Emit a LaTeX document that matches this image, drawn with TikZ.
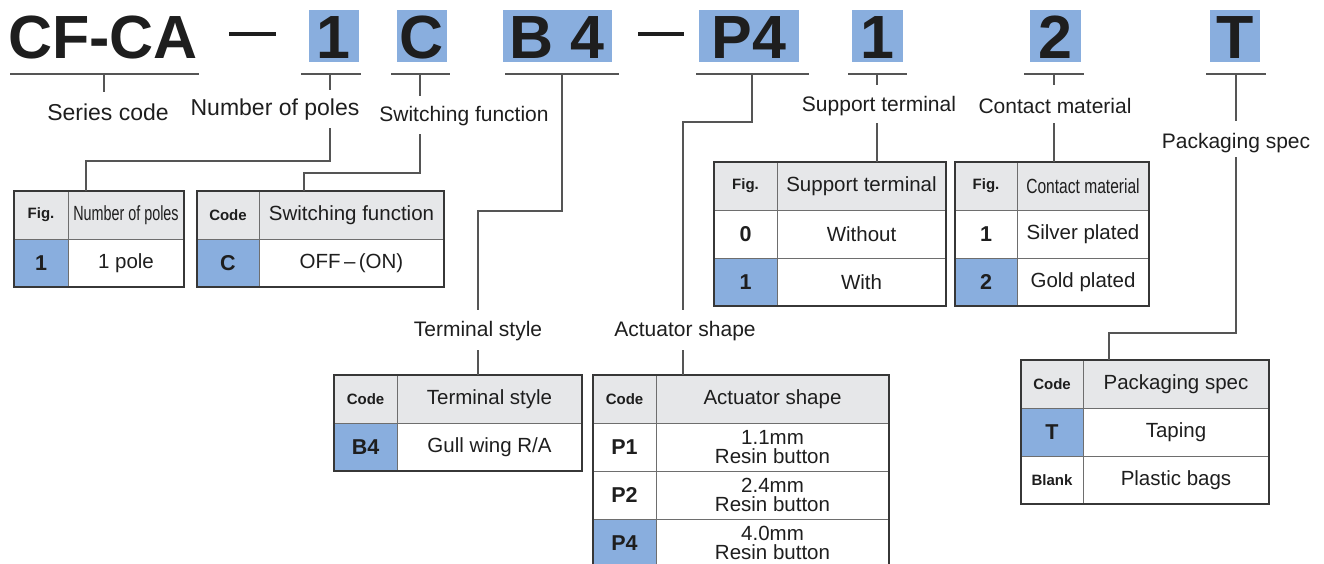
\documentclass[tikz,border=0pt]{standalone}
\usepackage{fontspec}
\setmainfont{Liberation Sans}
\usepackage{graphicx}
\definecolor{cblue}{RGB}{137,174,222}
\definecolor{chead}{RGB}{230,231,233}
\definecolor{cline}{RGB}{85,85,85}
\definecolor{cborder}{RGB}{55,55,55}
\definecolor{ctext}{RGB}{30,30,30}
\newcommand\titlef{\fontsize{61}{61}\selectfont\bfseries}
\newcommand\figf{\fontsize{15}{16}\selectfont\bfseries}
\newcommand\codef{\fontsize{21.5}{22}\selectfont\bfseries}
\newcommand\tcell[7][]{%
  \node[cellbase,#1,minimum width={#4pt-#2pt},minimum height={#5pt-#3pt}] (#6) at ({(#2+#4)/2},{(#3+#5)/2}) {#7};}
\tikzset{
  conn/.style={draw=cline,line width=1.1pt},
  cellbase/.style={draw=cline!85,line width=1pt,inner sep=0pt,outer sep=0pt,align=center,
     text=ctext,font=\fontsize{20.5}{18.5}\selectfont},
  outerbox/.style={draw=cborder,line width=1.6pt},
  codebox/.style={fill=cblue,inner sep=0pt,minimum height=52pt,text height=44pt,text depth=0pt,
     font=\titlef,text=ctext},
  titletext/.style={inner sep=0pt,text height=44pt,text depth=0pt,font=\titlef,text=ctext},
  lab/.style={inner sep=0pt,font=\fontsize{21}{23}\selectfont,text=ctext},
  biglab/.style={lab,font=\fontsize{23}{25}\selectfont},
}
\begin{document}
\begin{tikzpicture}[x=1pt,y=-1pt]
\useasboundingbox (0,0) rectangle (1324,563);
% ---- top code row ----
\node[titletext] (series) at (103,36) {CF-CA};
\node[fill=ctext,inner sep=0pt,minimum width=47pt,minimum height=4pt] (dash1) at (252.5,34) {};
\node[codebox,minimum width=50pt] (c1) at (333.5,36) {1};
\node[codebox,minimum width=50pt] (c2) at (422,36) {C};
\node[codebox,minimum width=109pt] (c3) at (557,36) {B 4};
\node[fill=ctext,inner sep=0pt,minimum width=46pt,minimum height=4pt] (dash2) at (661,34) {};
\node[codebox,minimum width=100pt] (c4) at (749,36) {P4};
\node[codebox,minimum width=51pt] (c5) at (877.5,36) {1};
\node[codebox,minimum width=51pt] (c6) at (1055,36) {2};
\node[codebox,minimum width=50pt] (c7) at (1235,36) {T};
% underlines
\draw[conn] (10,74) -- (199,74);
\draw[conn] (301,74) -- (361,74);
\draw[conn] (391,74) -- (450,74);
\draw[conn] (505,74) -- (619,74);
\draw[conn] (696,74) -- (809,74);
\draw[conn] (848,74) -- (907,74);
\draw[conn] (1024,74) -- (1084,74);
\draw[conn] (1206,74) -- (1266,74);
% ---- labels ----
\node[biglab] (l1) at (108,112) {Series code};
\node[biglab] (l2) at (275,110) {Number of poles};
\node[lab] (l3) at (464,116) {Switching function};
\node[lab] (l4) at (879,106) {Support terminal};
\node[lab] (l5) at (1055,106) {Contact material};
\node[lab] (l6) at (1236,143) {Packaging spec};
\node[lab] (l7) at (478,331) {Terminal style};
\node[lab] (l8) at (685,331) {Actuator shape};
% ---- tables ----
% number of poles
\tcell[fill=chead]{14}{191}{68}{239}{t1a}{\figf Fig.}
\tcell[fill=chead]{68}{191}{184}{239}{t1b}{\scalebox{0.7}[1]{Number of poles}}
\tcell[fill=cblue]{14}{239}{68}{287}{t1c}{\codef 1}
\tcell{68}{239}{184}{287}{t1d}{1 pole}
\draw[outerbox] (t1a.north west) rectangle (t1d.south east);
% switching function
\tcell[fill=chead]{197}{191}{259}{239}{t2a}{\figf Code}
\tcell[fill=chead]{259}{191}{444}{239}{t2b}{Switching function}
\tcell[fill=cblue]{197}{239}{259}{287}{t2c}{\codef C}
\tcell{259}{239}{444}{287}{t2d}{OFF\,–\,(ON)}
\draw[outerbox] (t2a.north west) rectangle (t2d.south east);
% support terminal
\tcell[fill=chead]{714}{162}{777}{210}{t3a}{\figf Fig.}
\tcell[fill=chead]{777}{162}{946}{210}{t3b}{Support terminal}
\tcell{714}{210}{777}{258}{t3c}{\codef 0}
\tcell{777}{210}{946}{258}{t3d}{Without}
\tcell[fill=cblue]{714}{258}{777}{306}{t3e}{\codef 1}
\tcell{777}{258}{946}{306}{t3f}{With}
\draw[outerbox] (t3a.north west) rectangle (t3f.south east);
% contact material
\tcell[fill=chead]{955}{162}{1017}{210}{t4a}{\figf Fig.}
\tcell[fill=chead]{1017}{162}{1149}{210}{t4b}{\scalebox{0.76}[1]{Contact material}}
\tcell{955}{210}{1017}{258}{t4c}{\codef 1}
\tcell{1017}{210}{1149}{258}{t4d}{Silver plated}
\tcell[fill=cblue]{955}{258}{1017}{306}{t4e}{\codef 2}
\tcell{1017}{258}{1149}{306}{t4f}{Gold plated}
\draw[outerbox] (t4a.north west) rectangle (t4f.south east);
% terminal style
\tcell[fill=chead]{334}{375}{397}{423}{t5a}{\figf Code}
\tcell[fill=chead]{397}{375}{582}{423}{t5b}{Terminal style}
\tcell[fill=cblue]{334}{423}{397}{471}{t5c}{\codef B4}
\tcell{397}{423}{582}{471}{t5d}{Gull wing R/A}
\draw[outerbox] (t5a.north west) rectangle (t5d.south east);
% actuator shape
\tcell[fill=chead]{593}{375}{656}{423}{t6a}{\figf Code}
\tcell[fill=chead]{656}{375}{889}{423}{t6b}{Actuator shape}
\tcell{593}{423}{656}{471}{t6c}{\codef P1}
\tcell{656}{423}{889}{471}{t6d}{1.1mm\\Resin button}
\tcell{593}{471}{656}{519}{t6e}{\codef P2}
\tcell{656}{471}{889}{519}{t6f}{2.4mm\\Resin button}
\tcell[fill=cblue]{593}{519}{656}{567}{t6g}{\codef P4}
\tcell{656}{519}{889}{567}{t6h}{4.0mm\\Resin button}
\draw[outerbox] (t6a.north west) rectangle (t6h.south east);
% packaging spec
\tcell[fill=chead]{1021}{360}{1083}{408}{t7a}{\figf Code}
\tcell[fill=chead]{1083}{360}{1269}{408}{t7b}{Packaging spec}
\tcell[fill=cblue]{1021}{408}{1083}{456}{t7c}{\codef T}
\tcell{1083}{408}{1269}{456}{t7d}{Taping}
\tcell{1021}{456}{1083}{504}{t7e}{\figf Blank}
\tcell{1083}{456}{1269}{504}{t7f}{Plastic bags}
\draw[outerbox] (t7a.north west) rectangle (t7f.south east);
% ---- connectors ----
\draw[conn] (104,74) -- (104,92);
\draw[conn] (330,74) -- (330,90);
\draw[conn] (420,74) -- (420,96);
\draw[conn] (877,74) -- (877,85);
\draw[conn] (1054,74) -- (1054,85);
\draw[conn] (1236,74) -- (1236,121);
\draw[conn] (330,128) -- (330,161) -- (86,161) -- (86,191);
\draw[conn] (420,134) -- (420,173) -- (304,173) -- (304,191);
\draw[conn] (562,74) -- (562,211) -- (478,211) -- (478,310);
\draw[conn] (752,74) -- (752,122) -- (683,122) -- (683,310);
\draw[conn] (478,350) -- (478,375);
\draw[conn] (683,350) -- (683,375);
\draw[conn] (877,123) -- (877,162);
\draw[conn] (1054,123) -- (1054,162);
\draw[conn] (1236,157) -- (1236,333) -- (1109,333) -- (1109,360);
\end{tikzpicture}
\end{document}
